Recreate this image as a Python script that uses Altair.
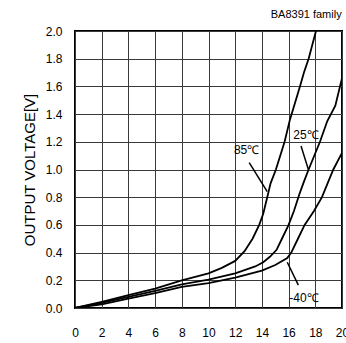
import altair as alt
import pandas as pd

# Output voltage vs. input for three ambient temperatures
x_85 = [0, 2, 4, 6, 8, 10, 11, 12, 12.7, 13.3, 13.8, 14.1, 14.45, 14.65, 15.05, 15.7, 16.1, 16.85, 17.15, 17.5, 18.05]
y_85 = [0, 0.045, 0.093, 0.14, 0.20, 0.25, 0.29, 0.34, 0.41, 0.50, 0.60, 0.68, 0.82, 0.90, 1.00, 1.20, 1.36, 1.60, 1.70, 1.80, 2.00]

x_25 = [0, 2, 4, 6, 8, 10, 12, 13.5, 14.1, 14.6, 15.1, 15.5, 16.0, 16.4, 16.8, 17.1, 17.5, 18.35, 18.9, 19.5, 19.85, 20.0]
y_25 = [0, 0.037, 0.08, 0.123, 0.17, 0.205, 0.25, 0.30, 0.33, 0.37, 0.42, 0.50, 0.60, 0.70, 0.82, 0.90, 1.00, 1.20, 1.35, 1.46, 1.60, 1.66]

x_m40 = [0, 2, 4, 6, 8, 10, 12, 14, 15, 15.9, 16.2, 16.7, 17.2, 17.9, 18.5, 19.35, 20.0]
y_m40 = [0, 0.027, 0.068, 0.108, 0.152, 0.18, 0.22, 0.27, 0.31, 0.36, 0.40, 0.50, 0.60, 0.70, 0.80, 1.00, 1.12]

series = [("85℃", x_85, y_85), ("25℃", x_25, y_25), ("-40℃", x_m40, y_m40)]

# Curve labels and their leader lines (data coordinates)
label_text = ["85℃", "25℃", "-40℃"]
label_x = [12.85, 17.3, 17.15]
label_y = [1.14, 1.25, 0.07]
lead_x1 = [13.05, 16.93, 16.73]
lead_y1 = [1.05, 1.17, 0.165]
lead_x2 = [14.4, 17.48, 15.9]
lead_y2 = [0.84, 1.00, 0.33]

x_ticks = list(range(0, 21, 2))
y_ticks = [round(0.2 * i, 1) for i in range(11)]

rows = []
for name, xs, ys in series:
    for i, (xv, yv) in enumerate(zip(xs, ys)):
        rows.append({"temp": name, "order": i, "x": xv, "y": yv})
curves = pd.DataFrame(rows)

labels = pd.DataFrame({"text": label_text, "x": label_x, "y": label_y})
leaders = pd.DataFrame({"x": lead_x1, "y": lead_y1, "x2": lead_x2, "y2": lead_y2})

FONT = "Liberation Sans"

x_scale = alt.Scale(domain=[0, 20], nice=False)
y_scale = alt.Scale(domain=[0, 2.0], nice=False)

x_axis = alt.Axis(
    values=x_ticks, title=None, grid=True, gridColor="#3a3a3a", gridWidth=1,
    domain=False, ticks=False, labelPadding=19, labelFontSize=12, labelFont=FONT,
    labelColor="black", labelFlush=False, labelBound=False, labelOverlap=False,
)
y_axis = alt.Axis(
    values=y_ticks, title="OUTPUT VOLTAGE[V]", format=".1f", grid=True,
    gridColor="#3a3a3a", gridWidth=1, domain=False, ticks=False,
    labelPadding=13, labelFontSize=12, labelFont=FONT, labelColor="black",
    titleFont=FONT, titleFontSize=15, titleFontWeight="normal", titleColor="black",
    titlePadding=8, labelFlush=False, labelOverlap=False,
)

X = alt.X("x:Q", scale=x_scale, axis=x_axis)
Y = alt.Y("y:Q", scale=y_scale, axis=y_axis)

lines = alt.Chart(curves).mark_line(color="black", strokeWidth=1.8, clip=True).encode(
    x=X, y=Y, detail="temp:N", order="order:Q",
)

leader_lines = alt.Chart(leaders).mark_rule(color="black", strokeWidth=1.5).encode(
    x=X, y=Y, x2="x2:Q", y2="y2:Q",
)

label_marks = alt.Chart(labels).mark_text(
    font=FONT, fontSize=12, color="black", align="center", baseline="middle",
).encode(x=X, y=Y, text="text:N")

chart = (
    alt.layer(lines, leader_lines, label_marks)
    .properties(
        width=267,
        height=277,
        background="white",
        title=alt.TitleParams(
            "BA8391 family", anchor="end", fontSize=11, font=FONT,
            fontWeight="normal", color="black", offset=5, dx=-7,
        ),
        padding={"left": 75, "top": 31, "right": 4, "bottom": 35},
        autosize=alt.AutoSizeParams(type="none"),
    )
    .configure_view(stroke="black", strokeWidth=2)
)

chart.save("out.html", embed_options={"renderer": "svg", "actions": False})
